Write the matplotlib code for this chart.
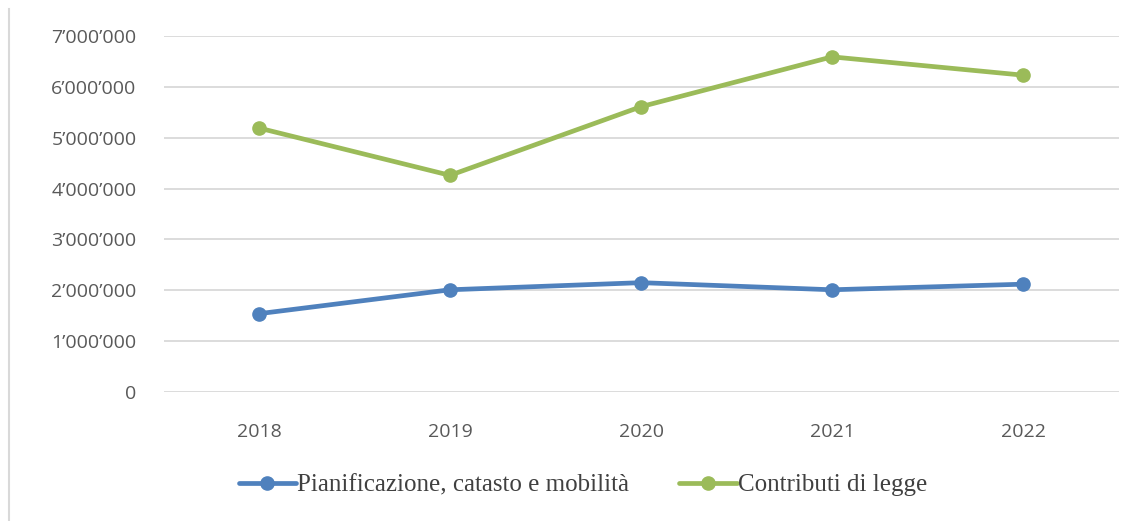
import numpy as np
import matplotlib.pyplot as plt
from matplotlib.lines import Line2D
from matplotlib.ticker import FuncFormatter

years = ['2018', '2019', '2020', '2021', '2022']
pianificazione = [1540000, 2010000, 2150000, 2010000, 2120000]
contributi = [5190000, 4260000, 5610000, 6590000, 6230000]

blue = '#4F81BD'
green = '#9BBB59'

def fmt(v, pos):
    return "{:,.0f}".format(v).replace(',', '\u2019')

fig = plt.figure(figsize=(11.34, 5.21), dpi=100)
ax = fig.add_axes([163.5/1134, 1 - 392/521, 955/1134, 356/521])

x = np.arange(len(years))
ax.plot(x, pianificazione, color=blue, lw=3.4, marker='o', markersize=9.5,
        solid_capstyle='round', label='Pianificazione, catasto e mobilità')
ax.plot(x, contributi, color=green, lw=3.4, marker='o', markersize=9.5,
        solid_capstyle='round', label='Contributi di legge')

ax.set_xlim(-0.5, 4.5)
ax.set_ylim(0, 7000000)
ax.set_yticks(np.arange(0, 7000001, 1000000))
ax.yaxis.set_major_formatter(FuncFormatter(fmt))
ax.set_xticks(x)
ax.set_xticklabels(years)
ax.grid(axis='y', color='#D9D9D9', lw=1.3)
ax.set_axisbelow(True)
for s in ax.spines.values():
    s.set_visible(False)
ax.tick_params(length=0, colors='#595959', labelsize=14)
ax.tick_params(axis='y', pad=19.5)
ax.tick_params(axis='x', pad=22)
for lab in ax.get_xticklabels() + ax.get_yticklabels():
    lab.set_fontfamily('Open Sans')

fig.legend(loc='center', bbox_to_anchor=(583/1134, 1 - 485/521), ncol=2,
           frameon=False, prop={'family': 'Liberation Serif', 'size': 18},
           handlelength=2.3, handletextpad=0.05, columnspacing=2.0,
           labelcolor='#404040')

# chart frame edge on the left
fig.add_artist(Line2D([9/1134, 9/1134], [0, 1 - 9/521], color='#D9D9D9', lw=1.5))

fig.savefig('out.png', dpi=100)
